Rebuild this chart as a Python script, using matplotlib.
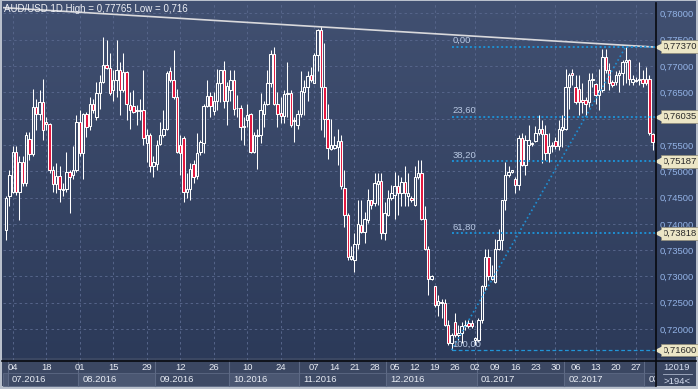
import numpy as np
import matplotlib
matplotlib.use("Agg")
import matplotlib.pyplot as plt
import matplotlib.transforms as mtrans
from matplotlib.patches import Rectangle
from matplotlib.lines import Line2D
from matplotlib.colors import LinearSegmentedColormap

plt.rcParams['font.family'] = ['Liberation Sans', 'DejaVu Sans']

# daily AUD/USD candles (194 bars)
opens = [0.7388, 0.7452, 0.7461, 0.7537, 0.7461, 0.7518, 0.7478, 0.7562, 0.7532, 0.7622,
         0.7608, 0.7632, 0.7594, 0.7589, 0.7502, 0.7476, 0.7491, 0.7465, 0.7467, 0.7499,
         0.7493, 0.7502, 0.7594, 0.7534, 0.7608, 0.7586, 0.7628, 0.7603, 0.7648, 0.7670,
         0.7702, 0.7697, 0.7654, 0.7673, 0.7693, 0.7655, 0.7688, 0.7625, 0.7624, 0.7614,
         0.7615, 0.7617, 0.7553, 0.7569, 0.7510, 0.7513, 0.7552, 0.7569, 0.7581, 0.7690,
         0.7673, 0.7641, 0.7550, 0.7564, 0.7461, 0.7466, 0.7514, 0.7491, 0.7537, 0.7554,
         0.7624, 0.7643, 0.7615, 0.7634, 0.7667, 0.7692, 0.7634, 0.7654, 0.7674, 0.7620,
         0.7621, 0.7586, 0.7597, 0.7609, 0.7537, 0.7567, 0.7569, 0.7609, 0.7628, 0.7667,
         0.7722, 0.7627, 0.7610, 0.7605, 0.7646, 0.7649, 0.7596, 0.7588, 0.7608, 0.7651,
         0.7660, 0.7683, 0.7668, 0.7720, 0.7769, 0.7660, 0.7600, 0.7543, 0.7545, 0.7546,
         0.7558, 0.7469, 0.7417, 0.7333, 0.7332, 0.7362, 0.7398, 0.7384, 0.7407, 0.7445,
         0.7439, 0.7476, 0.7482, 0.7382, 0.7417, 0.7449, 0.7455, 0.7472, 0.7458, 0.7479,
         0.7452, 0.7450, 0.7436, 0.7489, 0.7496, 0.7409, 0.7353, 0.7296, 0.7281, 0.7246,
         0.7252, 0.7249, 0.7208, 0.7173, 0.7214, 0.7189, 0.7192, 0.7206, 0.7211, 0.7212,
         0.7179, 0.7179, 0.7217, 0.7281, 0.7336, 0.7296, 0.7290, 0.7353, 0.7369, 0.7445,
         0.7493, 0.7499, 0.7486, 0.7474, 0.7564, 0.7511, 0.7550, 0.7552, 0.7558, 0.7572,
         0.7581, 0.7571, 0.7534, 0.7548, 0.7557, 0.7548, 0.7578, 0.7581, 0.7660, 0.7686,
         0.7660, 0.7657, 0.7636, 0.7636, 0.7632, 0.7673, 0.7665, 0.7645, 0.7654, 0.7717,
         0.7692, 0.7670, 0.7670, 0.7683, 0.7686, 0.7708, 0.7711, 0.7670, 0.7672, 0.7673,
         0.7676, 0.7676, 0.7676, 0.7570]
highs = [0.7452, 0.7502, 0.7547, 0.7547, 0.7528, 0.7528, 0.7575, 0.7575, 0.7657, 0.7638,
         0.7654, 0.7676, 0.7603, 0.7591, 0.7509, 0.7515, 0.7509, 0.7477, 0.7537, 0.7502,
         0.7547, 0.7607, 0.7616, 0.7610, 0.7613, 0.7641, 0.7638, 0.7670, 0.7683, 0.7755,
         0.7749, 0.7724, 0.7692, 0.7749, 0.7708, 0.7724, 0.7690, 0.7651, 0.7654, 0.7625,
         0.7638, 0.7692, 0.7581, 0.7572, 0.7528, 0.7559, 0.7594, 0.7616, 0.7690, 0.7698,
         0.7731, 0.7657, 0.7569, 0.7567, 0.7496, 0.7515, 0.7521, 0.7572, 0.7559, 0.7628,
         0.7674, 0.7651, 0.7651, 0.7695, 0.7693, 0.7710, 0.7670, 0.7692, 0.7692, 0.7645,
         0.7625, 0.7603, 0.7628, 0.7610, 0.7575, 0.7581, 0.7648, 0.7634, 0.7692, 0.7730,
         0.7736, 0.7651, 0.7641, 0.7654, 0.7708, 0.7654, 0.7603, 0.7617, 0.7690, 0.7673,
         0.7690, 0.7698, 0.7724, 0.7771, 0.77765, 0.7743, 0.7628, 0.7600, 0.7567, 0.7581,
         0.7569, 0.7502, 0.7421, 0.7357, 0.7382, 0.7445, 0.7445, 0.7423, 0.7467, 0.7446,
         0.7496, 0.7496, 0.7496, 0.7442, 0.7464, 0.7474, 0.7499, 0.7493, 0.7489, 0.7509,
         0.7496, 0.7453, 0.7509, 0.7522, 0.7521, 0.7433, 0.7357, 0.7302, 0.7282, 0.7265,
         0.7258, 0.7258, 0.7217, 0.7192, 0.7230, 0.7208, 0.7214, 0.7217, 0.7217, 0.7217,
         0.7185, 0.7221, 0.7284, 0.7353, 0.7353, 0.7322, 0.7372, 0.7391, 0.7446, 0.7518,
         0.7509, 0.7503, 0.7489, 0.7569, 0.7572, 0.7569, 0.7588, 0.7556, 0.7586, 0.7607,
         0.7597, 0.7588, 0.7572, 0.7556, 0.7565, 0.7597, 0.7607, 0.7695, 0.7686, 0.7695,
         0.7683, 0.7683, 0.7667, 0.7641, 0.7686, 0.7686, 0.7667, 0.7695, 0.7733, 0.7733,
         0.7705, 0.7673, 0.7690, 0.7692, 0.7711, 0.7737, 0.7714, 0.7683, 0.7679, 0.7708,
         0.7693, 0.7698, 0.7683, 0.7572]
lows = [0.7369, 0.7433, 0.7458, 0.7455, 0.7407, 0.7471, 0.7471, 0.7521, 0.7528, 0.7578,
        0.7597, 0.7559, 0.7578, 0.7496, 0.7461, 0.7458, 0.7442, 0.7452, 0.7461, 0.7420,
        0.7486, 0.7499, 0.7528, 0.7486, 0.7565, 0.7578, 0.7610, 0.7597, 0.7619, 0.7667,
        0.7695, 0.7645, 0.7634, 0.7641, 0.7607, 0.7651, 0.7597, 0.7581, 0.7610, 0.7588,
        0.7597, 0.7550, 0.7518, 0.7499, 0.7489, 0.7502, 0.7550, 0.7565, 0.7578, 0.7670,
        0.7638, 0.7534, 0.7493, 0.7442, 0.7449, 0.7445, 0.7477, 0.7486, 0.7531, 0.7534,
        0.7622, 0.7603, 0.7607, 0.7616, 0.7632, 0.7621, 0.7588, 0.7634, 0.7607, 0.7603,
        0.7559, 0.7550, 0.7584, 0.7534, 0.7534, 0.7505, 0.7553, 0.7584, 0.7625, 0.7660,
        0.7625, 0.7584, 0.7591, 0.7591, 0.7603, 0.7584, 0.7556, 0.7581, 0.7603, 0.7607,
        0.7634, 0.7670, 0.7667, 0.7690, 0.7578, 0.7565, 0.7524, 0.7540, 0.7543, 0.7511,
        0.7467, 0.7394, 0.7332, 0.7331, 0.7309, 0.7353, 0.7382, 0.7363, 0.7401, 0.7429,
        0.7433, 0.7436, 0.7372, 0.7369, 0.7414, 0.7445, 0.7410, 0.7417, 0.7433, 0.7433,
        0.7433, 0.7442, 0.7433, 0.7486, 0.7407, 0.7350, 0.7265, 0.7293, 0.7242, 0.7224,
        0.7221, 0.7205, 0.7170, 0.7160, 0.7185, 0.7179, 0.7173, 0.7198, 0.7201, 0.7201,
        0.7170, 0.7176, 0.7211, 0.7274, 0.7293, 0.7293, 0.7288, 0.7350, 0.7350, 0.7426,
        0.7489, 0.7496, 0.7458, 0.7464, 0.7509, 0.7493, 0.7521, 0.7548, 0.7556, 0.7569,
        0.7515, 0.7521, 0.7518, 0.7537, 0.7543, 0.7540, 0.7546, 0.7578, 0.7619, 0.7664,
        0.7628, 0.7607, 0.7610, 0.7607, 0.7622, 0.7660, 0.7628, 0.7616, 0.7651, 0.7686,
        0.7654, 0.7660, 0.7664, 0.7651, 0.7664, 0.7667, 0.7664, 0.7664, 0.7670, 0.7664,
        0.7660, 0.7664, 0.7569, 0.7540]
closes = [0.7450, 0.7493, 0.7537, 0.7461, 0.7518, 0.7478, 0.7569, 0.7532, 0.7622, 0.7608,
          0.7632, 0.7578, 0.7589, 0.7502, 0.7476, 0.7491, 0.7466, 0.7467, 0.7499, 0.7489,
          0.7502, 0.7594, 0.7534, 0.7608, 0.7584, 0.7628, 0.7617, 0.7648, 0.7670, 0.7702,
          0.7697, 0.7648, 0.7673, 0.7693, 0.7654, 0.7688, 0.7627, 0.7616, 0.7613, 0.7616,
          0.7617, 0.7564, 0.7569, 0.7510, 0.7518, 0.7550, 0.7569, 0.7581, 0.7686, 0.7673,
          0.7641, 0.7537, 0.7534, 0.7461, 0.7467, 0.7504, 0.7489, 0.7534, 0.7556, 0.7624,
          0.7643, 0.7624, 0.7634, 0.7668, 0.7692, 0.7634, 0.7662, 0.7674, 0.7619, 0.7621,
          0.7584, 0.7584, 0.7607, 0.7537, 0.7569, 0.7569, 0.7616, 0.7628, 0.7667, 0.7722,
          0.7628, 0.7609, 0.7605, 0.7646, 0.7649, 0.7588, 0.7598, 0.7608, 0.7652, 0.7660,
          0.7681, 0.7674, 0.7720, 0.7769, 0.7660, 0.7600, 0.7545, 0.7550, 0.7550, 0.7558,
          0.7471, 0.7417, 0.7336, 0.7338, 0.7362, 0.7400, 0.7384, 0.7409, 0.7445, 0.7436,
          0.7477, 0.7482, 0.7382, 0.7420, 0.7449, 0.7458, 0.7472, 0.7458, 0.7480, 0.7458,
          0.7458, 0.7446, 0.7489, 0.7496, 0.7409, 0.7353, 0.7296, 0.7301, 0.7246, 0.7254,
          0.7249, 0.7208, 0.7173, 0.7189, 0.7189, 0.7193, 0.7206, 0.7208, 0.7205, 0.7205,
          0.7183, 0.7217, 0.7281, 0.7336, 0.7300, 0.7300, 0.7353, 0.7369, 0.7445, 0.7493,
          0.7499, 0.7502, 0.7474, 0.7564, 0.7511, 0.7559, 0.7559, 0.7554, 0.7572, 0.7581,
          0.7571, 0.7534, 0.7548, 0.7549, 0.7548, 0.7581, 0.7584, 0.7660, 0.7683, 0.7683,
          0.7632, 0.7632, 0.7632, 0.7627, 0.7673, 0.7676, 0.7645, 0.7654, 0.7717, 0.7692,
          0.7667, 0.7664, 0.7683, 0.7686, 0.7708, 0.7711, 0.7676, 0.7676, 0.7673, 0.7676,
          0.7667, 0.7667, 0.7572, 0.7556]

# date axis (bar index of each label)
week_pos = [2, 12, 22, 32, 42, 52, 62, 72, 82, 92, 98, 104, 110, 116, 122, 128, 134,
            140, 146, 152, 158, 164, 170, 176, 182, 188]
week_labels = ['04', '18', '01', '15', '29', '12', '26', '10', '24', '07', '14', '21', '28',
               '05', '12', '19', '26', '02', '09', '16', '23', '30', '06', '13', '20', '27']
grid_pos = [2, 12, 22, 32, 42, 52, 62, 72, 82, 92, 104, 116, 128, 140, 152, 164, 176, 188]
month_start = [-0.9, 0.5, 21.5, 44.5, 66.5, 87.5, 113.5, 140.5, 166.5, 190.5]
month_labels = ['', '07.2016', '08.2016', '09.2016', '10.2016', '11.2016', '12.2016',
                '01.2017', '02.2017', '03.2017']

# fibonacci retracement
fib_pct = ['0,00', '23,60', '38,20', '61,80', '100,00']
fib_price = [0.7737, 0.76035, 0.75187, 0.73818, 0.716]
fib_tag = ['0,77370', '0,76035', '0,75187', '0,73818', '0,71600']
swing_x = [133, 185]
swing_y = [0.716, 0.7737]
trend_x = [-0.9, 193.7]
trend_y = [0.7811, 0.7736]

W, H = 698, 389
fig = plt.figure(figsize=(W / 100, H / 100), dpi=100)
fig.patch.set_facecolor('#b9c0cc')

# dark background panel in pixel coords
bg = fig.add_axes([2 / W, 3 / H, 694 / W, 385 / H])
bg.set_xlim(2, 696)
bg.set_ylim(388, 3)
bg.axis('off')
cmap = LinearSegmentedColormap.from_list('bg', ['#415071', '#2c3a59'])
bg.imshow(np.linspace(0, 1, 256).reshape(-1, 1), cmap=cmap, aspect='auto',
          extent=[2, 696, 360, 3], origin='upper')
bg.add_patch(Rectangle((2, 360), 694, 28, color='#3b4762', lw=0))

ax = fig.add_axes([3 / W, 29 / H, 652 / W, 357 / H])
ax.set_facecolor('none')
ax.set_xlim(-0.9, 193.7)
ax.set_ylim(0.71411, 0.78198)
for s in ax.spines.values():
    s.set_visible(False)

price_ticks = np.arange(0.72, 0.78001, 0.005)
# 0,76000 sits fully under the 0,76035 tag in the original
tick_text = ['' if abs(p - 0.76) < 1e-6 else f'{p:.5f}'.replace('.', ',') for p in price_ticks]
ax.yaxis.tick_right()
ax.set_yticks(price_ticks, labels=tick_text)
ax.set_xticks([])
ax.tick_params(axis='y', length=0, pad=3, labelsize=6.8, labelcolor='#93b3e6')

grid_kw = dict(color='#56658a', lw=0.7, dashes=(2.5, 3), zorder=0)
for p in price_ticks:
    ax.axhline(p, **grid_kw)
for g in grid_pos:
    ax.axvline(g, **grid_kw)

# candles
x = np.arange(len(closes))
o, h, l, c = map(np.array, (opens, highs, lows, closes))
top = np.maximum(o, c)
bot = np.minimum(o, c)
ax.vlines(x, top, h, color='white', lw=0.75, zorder=3)
ax.vlines(x, l, bot, color='white', lw=0.75, zorder=3)
for i in x:
    bull = c[i] >= o[i]
    ax.add_patch(Rectangle((i - 0.36, bot[i]), 0.72, max(top[i] - bot[i], 0.00006),
                           fc='none' if bull else '#e3153d', ec='white', lw=0.75, zorder=4))

# trend line across the highs
ax.plot(trend_x, trend_y, color='#d9d9dc', lw=1.2, zorder=5)

# fibonacci levels
for k, (p, pct) in enumerate(zip(fib_price, fib_pct)):
    if k == len(fib_price) - 1:
        ax.plot([swing_x[0], 193.7], [p, p], color='#2196d8', lw=0.9, ls=(0, (3, 2)), zorder=5)
    else:
        ax.plot([swing_x[0], 193.7], [p, p], color='#1e8fd3', lw=1.4, ls=(0, (1, 1.3)), zorder=5)
    ax.text(swing_x[0] + 0.3, p + 0.0003, pct, color='#b8c8e2', fontsize=6.8,
            va='bottom', ha='left', zorder=6)
ax.plot(swing_x, swing_y, color='#1e8fd3', lw=1.2, ls=(0, (1, 1.6)), zorder=5)

# price tags on the axis
tr = mtrans.blended_transform_factory(ax.transAxes, ax.transData)
for p, tag in zip(fib_price, fib_tag):
    ax.text(1 + 8 / 652, p, tag, transform=tr, fontsize=6.8, color='#2a2a2a',
            va='center', ha='left', clip_on=False, zorder=10,
            bbox=dict(boxstyle='square,pad=0.2', fc='#ece6c6', ec='#8f8b78', lw=0.5))
    ax.plot(1 + 4 / 652, p, marker='<', ms=5.5, color='#ece6c6', transform=tr,
            clip_on=False, zorder=11)

# date strip
xt = ax.get_xaxis_transform()
row_top = (360 - 373) / 357
row_bot = (360 - 386) / 357
strip_clip = mtrans.TransformedBbox(mtrans.Bbox([[2 / W, 0], [655 / W, 1]]), fig.transFigure)
for k in range(len(month_start)):
    x0 = month_start[k]
    x1 = month_start[k + 1] if k + 1 < len(month_start) else 193.7
    ax.add_patch(Rectangle((x0, row_bot), x1 - x0, row_top - row_bot, transform=xt,
                           fc='#4b5772' if k % 2 == 0 else '#3e4a65', ec='#5d6984',
                           lw=0.6, clip_on=False, zorder=2))
    if k > 0:
        ax.plot([x0, x0], [0, row_bot], transform=xt, color='#5d6984', lw=0.8, clip_on=False)
    t = ax.text(x0 + 1.3, (360 - 380) / 357, month_labels[k], transform=xt, fontsize=6.8,
                color='#e8ecf4', va='center', ha='left', zorder=3)
    t.set_clip_box(strip_clip)
    t.set_clip_on(True)
for pos, lab in zip(week_pos, week_labels):
    ax.text(pos, (360 - 368) / 357, lab, transform=xt, fontsize=6.8, color='#e8ecf4',
            va='center', ha='center', clip_on=False)

# bottom right info box
fig.text(677 / W, 1 - 368 / H, '12019', fontsize=6.8, color='#d6def0', ha='center', va='center')
fig.text(677 / W, 1 - 381 / H, '>194<', fontsize=6.8, color='#d6def0', ha='center', va='center')
fig.add_artist(Line2D([663 / W, 692 / W], [1 - 374 / H, 1 - 374 / H], color='#a9b3c8', lw=0.6))

# black separators
fig.add_artist(Line2D([655.5 / W, 655.5 / W], [3 / H, 1 - 3 / H], color='#080a10', lw=1.2))
fig.add_artist(Line2D([2 / W, 696 / W], [1 - 360.5 / H, 1 - 360.5 / H], color='#080a10', lw=1.2))

fig.text(4 / W, 1 - 9 / H, 'AUD/USD 1D High = 0,77765 Low = 0,716', fontsize=7,
         color='#eef0f5', ha='left', va='center')

fig.savefig('out.png', dpi=100, facecolor=fig.get_facecolor())
